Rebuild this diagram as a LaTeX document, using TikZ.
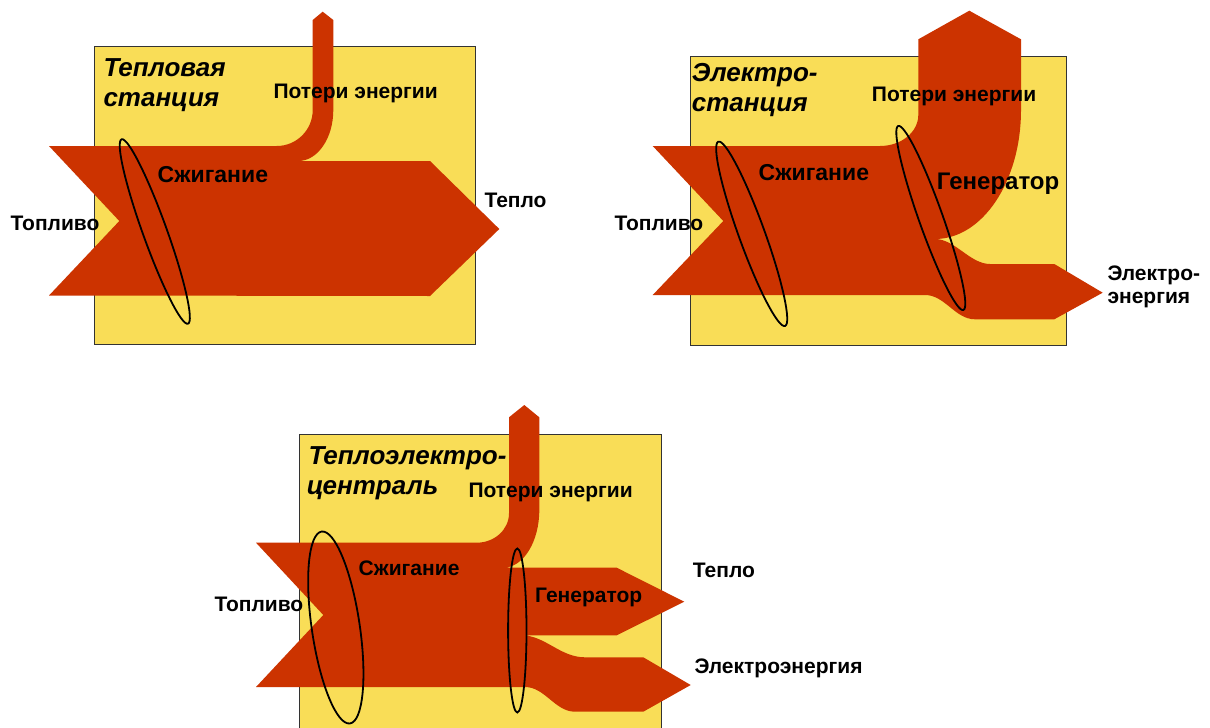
\documentclass[tikz,border=0pt]{standalone}
\usepackage{fontspec}
\setmainfont{Liberation Sans}
\definecolor{flow}{RGB}{204,51,0}
\definecolor{plant}{RGB}{249,221,87}
\tikzset{
  plantbox/.style={fill=plant, draw=black!80, line width=0.8pt},
  flowshape/.style={fill=flow, draw=none},
  ring/.style={draw=black, line width=1.8pt},
  lbl/.style={inner sep=0pt, anchor=base west, font=\bfseries\fontsize{21}{24}\selectfont},
  lblbig/.style={lbl, font=\bfseries\fontsize{23}{26}\selectfont},
  lblgen/.style={lbl, font=\bfseries\fontsize{24}{27}\selectfont},
  ttl/.style={inner sep=0pt, anchor=base west, font=\bfseries\itshape\fontsize{26}{30}\selectfont},
}
\begin{document}
\begin{tikzpicture}[x=1pt,y=-1pt]
\useasboundingbox (0,0) rectangle (1210,728);
\clip (0,0) rectangle (1210,728);
\fill[white] (0,0) rectangle (1210,728);

% ---------- Panel 1 ----------
\draw[plantbox] (94.3,46.7) rectangle (475,344);
\fill[flowshape] (49,146) -- (276.7,146)
  arc[start angle=90, end angle=0, x radius=36, y radius=36]
  -- (312.7,20) -- (322.7,11.7) -- (333.3,20) -- (333.3,110)
  arc[start angle=0, end angle=90, x radius=35, y radius=51]
  -- (430,161) -- (499.3,229) -- (430,296) -- (49,295.5) -- (119.3,221) -- cycle;
\draw[ring, rotate around={-70.2:(154.8,231.5)}] (154.8,231.5) ellipse [x radius=98, y radius=12];
\node[ttl] (p1t1) at (103.3,76) {Тепловая};
\node[ttl] (p1t2) at (103.3,106) {станция};
\node[lbl] (p1loss) at (273.3,98.3) {Потери энергии};
\node[lblbig] (p1burn) at (157.3,182.7) {Сжигание};
\node[lbl] (p1fuel) at (10.5,230) {Топливо};
\node[lbl] (p1heat) at (484.3,207.3) {Тепло};

% ---------- Panel 2 ----------
\draw[plantbox] (690,56) rectangle (1066,345.7);
\fill[flowshape] (652.7,146) -- (880,146)
  arc[start angle=90, end angle=0, x radius=38.3, y radius=31]
  -- (918.3,39.3) -- (969.3,10.7) -- (1021,39.3) -- (1021,110)
  arc[start angle=0, end angle=90, x radius=86, y radius=129]
  .. controls (955,239) and (970,264) .. (990,264)
  -- (1054.3,264) -- (1102.7,292.7) -- (1054.3,319.3) -- (975,319.3)
  .. controls (955,319.3) and (945,295) .. (925,295)
  -- (652.7,295) -- (723.3,221) -- cycle;
\draw[ring, rotate around={-70.1:(751.7,233.8)}] (751.7,233.8) ellipse [x radius=98, y radius=13];
\draw[ring, rotate around={-70.5:(930.8,218)}] (930.8,218) ellipse [x radius=97.6, y radius=12];
\node[ttl] (p2t1) at (691.7,81) {Электро-};
\node[ttl] (p2t2) at (691.7,111) {станция};
\node[lbl] (p2loss) at (871.7,101) {Потери энергии};
\node[lblbig] (p2burn) at (758.3,180) {Сжигание};
\node[lblgen] (p2gen) at (936.7,189) {Генератор};
\node[lbl] (p2fuel) at (614.3,230) {Топливо};
\node[lbl] (p2el1) at (1107.3,280) {Электро-};
\node[lbl] (p2el2) at (1107.3,303.3) {энергия};

% ---------- Panel 3 ----------
\draw[plantbox] (299.3,434.3) rectangle (661.3,740);
\fill[flowshape] (256,542.7) -- (476.7,542.7)
  arc[start angle=90, end angle=0, x radius=32.3, y radius=29.4]
  -- (509,417.3) -- (524.3,405) -- (539.3,417.3) -- (539.3,510)
  arc[start angle=0, end angle=90, x radius=36, y radius=57.7]
  -- (616.7,567.7) -- (684.3,601.7) -- (616.7,635.3) -- (521.7,635.3)
  .. controls (545,635.3) and (560,657.3) .. (585,657.3)
  -- (643.3,657.3) -- (690.7,685) -- (643.3,711.7) -- (575,711.7)
  .. controls (555,711.7) and (545,687) .. (525,687)
  -- (256,687) -- (323.3,615) -- cycle;
\draw[ring, rotate around={-81.6:(335.8,627.5)}] (335.8,627.5) ellipse [x radius=97, y radius=24];
\draw[ring] (517.3,630.5) ellipse [x radius=9.2, y radius=82];
\node[ttl] (p3t1) at (308.3,464) {Теплоэлектро-};
\node[ttl] (p3t2) at (306.7,494.3) {централь};
\node[lbl] (p3loss) at (468.3,497.3) {Потери энергии};
\node[lbl] (p3burn) at (358.3,575.7) {Сжигание};
\node[lbl] (p3gen) at (535,602.3) {Генератор};
\node[lbl] (p3fuel) at (214.3,611.7) {Топливо};
\node[lbl] (p3heat) at (692.7,577.3) {Тепло};
\node[lbl] (p3el) at (694.3,673.3) {Электроэнергия};
\end{tikzpicture}
\end{document}
